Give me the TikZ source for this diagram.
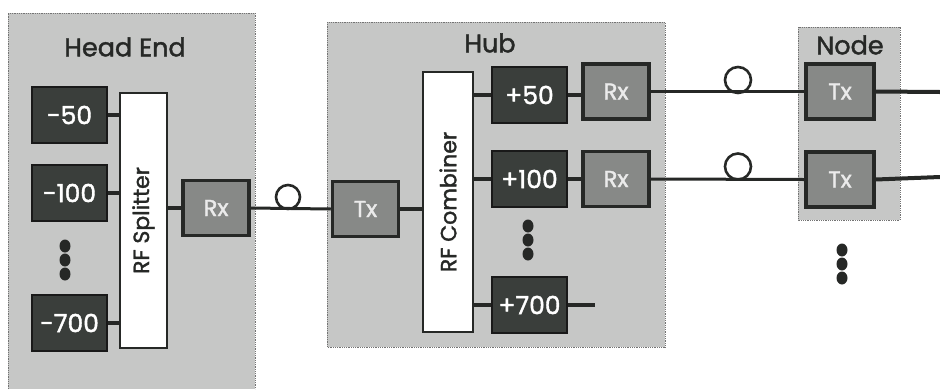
\documentclass[tikz,border=0pt]{standalone}
\usepackage{fontspec}
\setmainfont{Poppins}[FakeBold=1.6]
\usetikzlibrary{shapes.geometric}
\definecolor{grp}{RGB}{198,199,198}
\definecolor{darkb}{RGB}{58,62,59}
\definecolor{midb}{RGB}{135,137,135}
\definecolor{ink}{RGB}{38,40,38}
\begin{document}
\begin{tikzpicture}[x=1pt,y=-1pt,
  grpbox/.style={fill=grp, draw=black!55, densely dotted, line width=0.8pt},
  grplabel/.style={text=ink, font=\fontsize{25.5}{25.5}\selectfont, inner sep=0pt},
  darkbox/.style={draw=black!90, fill=darkb, line width=2pt, text=white, font=\fontsize{25}{25}\selectfont, minimum width=75, minimum height=56, inner sep=0pt},
  midbox/.style={draw=ink, fill=midb, line width=3.5pt, text=white!92!black, font=\fontsize{23}{23}\selectfont, minimum width=66, minimum height=55, inner sep=0pt},
  whitebox/.style={draw=ink, fill=white, line width=2.5pt, text=ink, font=\fontsize{22}{22}\selectfont, inner sep=0pt},
  conn/.style={draw=ink, line width=3.5pt},
  fiber/.style={draw=ink, line width=3pt},
  loopc/.style={circle, draw=ink, line width=2.6pt, fill=none, inner sep=0pt},
  dotc/.style={ellipse, fill=ink, inner sep=0pt, minimum width=11, minimum height=13}]
\useasboundingbox (0,0) rectangle (940,389);
% group backgrounds
\fill[grp] (8,13) rectangle (255,389);
\draw[black!55, densely dotted, line width=0.8pt] (8,389) -- (8,13) -- (255,13) -- (255,389);
\draw[grpbox] (327,22) rectangle (665,347);
\draw[grpbox] (798,27) rectangle (900,220);
% labels
\node[grplabel] (lhe) at (125,47) {Head End};
\node[grplabel] (lhub) at (490,43) {Hub};
\node[grplabel] (lnode) at (850,45) {Node};
% head end
\node[darkbox] (m50) at (69.5,115) {-50};
\node[darkbox] (m100) at (69.5,193) {-100};
\node[darkbox] (m700) at (69.5,323) {-700};
\node[whitebox, minimum width=47, minimum height=255] (split) at (143.5,220.5) {\rotatebox{90}{RF Splitter}};
\node[midbox] (rxhe) at (216,208) {Rx};
\node[dotc] (hd1) at (65,246) {};
\node[dotc] (hd2) at (65,260) {};
\node[dotc] (hd3) at (65,274) {};
\draw[conn] (m50.east) -- (m50.east -| split.west);
\draw[conn] (m100.east) -- (m100.east -| split.west);
\draw[conn] (m700.east) -- (m700.east -| split.west);
\draw[conn] (split.east |- rxhe.west) -- (rxhe.west);
% hub
\node[midbox] (txhub) at (365.5,209) {Tx};
\node[whitebox, minimum width=50, minimum height=260] (comb) at (448,202) {\rotatebox{90}{RF Combiner}};
\node[darkbox] (p50) at (529.5,95) {+50};
\node[darkbox] (p100) at (529.5,179) {+100};
\node[darkbox] (p700) at (529.5,305) {+700};
\node[midbox] (rx1) at (616,91.5) {Rx};
\node[midbox] (rx2) at (616,179) {Rx};
\coordinate (p700end) at (595,305);
\node[dotc] (bd1) at (528,226) {};
\node[dotc] (bd2) at (528,240) {};
\node[dotc] (bd3) at (528,254) {};
\draw[conn] (txhub.east) -- (txhub.east -| comb.west);
\draw[conn] (comb.east |- p50.west) -- (p50.west);
\draw[conn] (comb.east |- p100.west) -- (p100.west);
\draw[conn] (comb.east |- p700.west) -- (p700.west);
\draw[conn] (p50.east) -- (p50.east -| rx1.west);
\draw[conn] (p100.east) -- (rx2.west);
\draw[conn] (p700.east) -- (p700end);
% fiber head end -> hub
\node[loopc, minimum size=24] (loop0) at (288,197) {};
\draw[fiber] (rxhe.east) -- (txhub.west);
% node
\node[midbox, minimum width=68] (tx1) at (840,91.5) {Tx};
\node[midbox, minimum width=68] (tx2) at (840,179.5) {Tx};
\node[dotc] (nd1) at (842,250) {};
\node[dotc] (nd2) at (842,264) {};
\node[dotc] (nd3) at (842,278) {};
\node[loopc, minimum size=26] (loop1) at (738,80) {};
\node[loopc, minimum size=26] (loop2) at (738,166.5) {};
\draw[fiber] (rx1.east) -- (tx1.west);
\draw[fiber] (rx2.east) -- (tx2.west);
\coordinate (out1) at (940,92);
\coordinate (out2) at (940,177);
\draw[ink, line width=4pt] (tx1.east) -- (out1);
\draw[ink, line width=4pt] (tx2.east) -- (out2);
\end{tikzpicture}
\end{document}
